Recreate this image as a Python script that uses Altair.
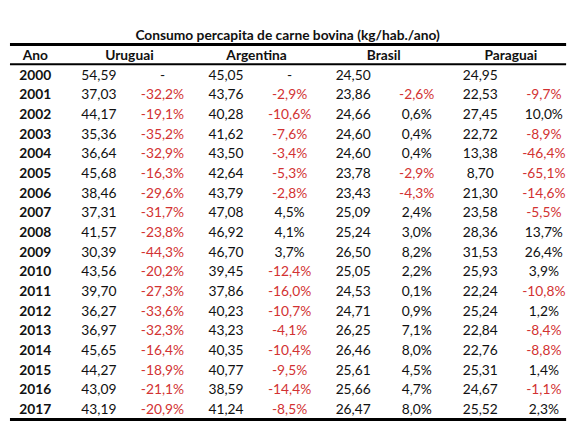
import altair as alt
import pandas as pd

TITLE = "Consumo percapita de carne bovina (kg/hab./ano)"
YEAR_HEADER = "Ano"
countries = ["Uruguai", "Argentina", "Brasil", "Paraguai"]
years = list(range(2000, 2018))

uruguai = [54.59, 37.03, 44.17, 35.36, 36.64, 45.68, 38.46, 37.31, 41.57,
           30.39, 43.56, 39.70, 36.27, 36.97, 45.65, 44.27, 43.09, 43.19]
uruguai_pct = [None, -32.2, -19.1, -35.2, -32.9, -16.3, -29.6, -31.7, -23.8,
               -44.3, -20.2, -27.3, -33.6, -32.3, -16.4, -18.9, -21.1, -20.9]
argentina = [45.05, 43.76, 40.28, 41.62, 43.50, 42.64, 43.79, 47.08, 46.92,
             46.70, 39.45, 37.86, 40.23, 43.23, 40.35, 40.77, 38.59, 41.24]
argentina_pct = [None, -2.9, -10.6, -7.6, -3.4, -5.3, -2.8, 4.5, 4.1,
                 3.7, -12.4, -16.0, -10.7, -4.1, -10.4, -9.5, -14.4, -8.5]
brasil = [24.50, 23.86, 24.66, 24.60, 24.60, 23.78, 23.43, 25.09, 25.24,
          26.50, 25.05, 24.53, 24.71, 26.25, 26.46, 25.61, 25.66, 26.47]
brasil_pct = [None, -2.6, 0.6, 0.4, 0.4, -2.9, -4.3, 2.4, 3.0,
              8.2, 2.2, 0.1, 0.9, 7.1, 8.0, 4.5, 4.7, 8.0]
paraguai = [24.95, 22.53, 27.45, 22.72, 13.38, 8.70, 21.30, 23.58, 28.36,
            31.53, 25.93, 22.24, 25.24, 22.84, 22.76, 25.31, 24.67, 25.52]
paraguai_pct = [None, -9.7, 10.0, -8.9, -46.4, -65.1, -14.6, -5.5, 13.7,
                26.4, 3.9, -10.8, 1.2, -8.4, -8.8, 1.4, -1.1, 2.3]
missing_mark = {"Uruguai": "-", "Argentina": "-", "Brasil": "", "Paraguai": ""}

series = {
    "Uruguai": (uruguai, uruguai_pct),
    "Argentina": (argentina, argentina_pct),
    "Brasil": (brasil, brasil_pct),
    "Paraguai": (paraguai, paraguai_pct),
}

col_keys = [YEAR_HEADER]
for c in countries:
    col_keys += [c, c + " %"]

def fmt_num(v):
    return f"{v:.2f}".replace(".", ",")

def fmt_pct(v):
    return f"{v:.1f}%".replace(".", ",")

# row index: -1 title, 0 header, 1.. data rows
cells = []
for i, yr in enumerate(years):
    row = i + 1
    cells.append({"col": YEAR_HEADER, "row": row, "txt": str(yr), "kind": "year", "tone": "pos"})
    for c in countries:
        vals, pcts = series[c]
        cells.append({"col": c, "row": row, "txt": fmt_num(vals[i]), "kind": "val", "tone": "pos"})
        p = pcts[i]
        if p is None:
            cells.append({"col": c + " %", "row": row, "txt": missing_mark[c], "kind": "pct", "tone": "pos"})
        else:
            cells.append({"col": c + " %", "row": row, "txt": fmt_pct(p), "kind": "pct",
                          "tone": "neg" if p < 0 else "pos"})
df = pd.DataFrame(cells)

hdr = pd.DataFrame([{"col": c, "row": 0, "txt": c} for c in countries])
hdr_year = pd.DataFrame([{"col": YEAR_HEADER, "row": 0, "txt": YEAR_HEADER}])
title_df = pd.DataFrame([{"row": -1, "txt": TITLE}])

n_rows = len(years)
rules_df = pd.DataFrame([
    {"row": -0.58, "w": 3.0},
    {"row": 0.42, "w": 2.0},
    {"row": n_rows + 0.47, "w": 3.0},
])

W = 560
H = 420
PAD_R = 5
FONT = "Lato"
FS = 14

xs = alt.Scale(type="point", domain=col_keys, padding=0.336, align=0.594)
ys = alt.Scale(domain=[-2.265, 18.735], reverse=True, nice=False, zero=False)
X = alt.X("col:N", scale=xs, axis=None)
Y = alt.Y("row:Q", scale=ys, axis=None)

base_text = dict(font=FONT, fontSize=FS, baseline="middle", align="center")

years_layer = alt.Chart(df[df.kind == "year"]).mark_text(
    fontWeight="bold", color="#111", **base_text).encode(x=X, y=Y, text="txt:N")
vals_layer = alt.Chart(df[df.kind == "val"]).mark_text(
    color="#111", **base_text).encode(x=X, y=Y, text="txt:N")
pct_layer = alt.Chart(df[df.kind == "pct"]).mark_text(**base_text).encode(
    x=X, y=Y, text="txt:N",
    color=alt.Color("tone:N", scale=alt.Scale(domain=["pos", "neg"], range=["#111111", "#d23232"]),
                    legend=None))
hdr_layer = alt.Chart(hdr).mark_text(fontWeight="bold", color="#111", dx=31, **base_text).encode(
    x=X, y=Y, text="txt:N")
hdr_year_layer = alt.Chart(hdr_year).mark_text(fontWeight="bold", color="#111", **base_text).encode(
    x=X, y=Y, text="txt:N")
title_layer = alt.Chart(title_df).mark_text(fontWeight="bold", color="#111", font=FONT,
                                            fontSize=FS, baseline="middle", align="center").encode(
    x=alt.value(W / 2 + 2), y=Y, text="txt:N")
rules_layer = alt.Chart(rules_df).mark_rule(color="#000").encode(
    x=alt.value(0), x2=alt.value(W + PAD_R), y=Y,
    strokeWidth=alt.StrokeWidth("w:Q", scale=None, legend=None))

chart = alt.layer(rules_layer, title_layer, hdr_year_layer, hdr_layer, years_layer,
                  vals_layer, pct_layer).properties(
    width=W, height=H,
    padding={"left": 0, "top": 0, "right": PAD_R, "bottom": 0},
).configure(background="white").configure_view(stroke=None)

chart.save("out.html", embed_options={"renderer": "svg", "actions": False})
